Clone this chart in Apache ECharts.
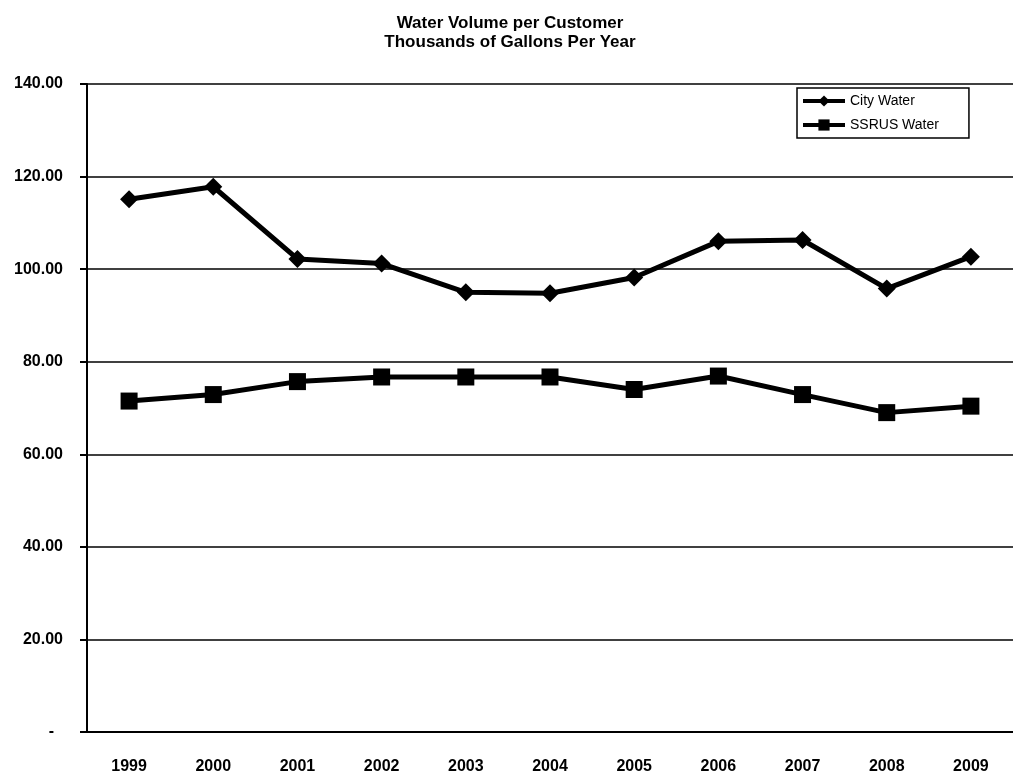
<!DOCTYPE html>
<html><head><meta charset="utf-8">
<script src="https://cdn.jsdelivr.net/npm/echarts@6/dist/echarts.min.js"></script>
<style>html,body{margin:0;padding:0;background:#fff}#c{width:1013px;height:775px}</style>
</head><body><div id="c"></div>
<script>
const categories = ['1999','2000','2001','2002','2003','2004','2005','2006','2007','2008','2009'];
const cityWater = [115.1, 117.8, 102.2, 101.2, 95.0, 94.8, 98.2, 106.0, 106.3, 95.8, 102.7];
const ssrusWater = [71.5, 72.9, 75.7, 76.7, 76.7, 76.7, 74.0, 76.9, 72.9, 69.0, 70.4];
const yTicks = [0, 20, 40, 60, 80, 100, 120, 140];

const F = 'Liberation Sans, Arial, sans-serif';
const chart = echarts.init(document.getElementById('c'));
chart.setOption({
  animation: false,
  backgroundColor: '#fff',
  title: {
    text: 'Water Volume per Customer\nThousands of Gallons Per Year',
    left: 505, textAlign: 'center', top: 9,
    textStyle: { fontFamily: F, fontSize: 17, fontWeight: 'bold', color: '#000', lineHeight: 19 }
  },
  legend: {
    left: 797, top: 88, orient: 'vertical',
    itemWidth: 42, itemHeight: 14, itemGap: 10,
    padding: [6, 30, 6, 4],
    borderColor: '#000', borderWidth: 1.5, backgroundColor: '#fff',
    lineStyle: { width: 4 },
    textStyle: { fontFamily: F, fontSize: 14, color: '#000' },
    data: ['City Water', 'SSRUS Water']
  },
  grid: { left: 87, top: 84, width: 938, height: 649 },
  xAxis: {
    type: 'category', data: categories, boundaryGap: true,
    axisLine: { lineStyle: { color: '#000', width: 2 } },
    axisTick: { lineStyle: { color: '#000', width: 2 }, length: 6 },
    axisLabel: { fontFamily: F, fontSize: 16, fontWeight: 'bold', color: '#000', margin: 27 }
  },
  yAxis: {
    type: 'value', min: 0, max: 140, interval: 20,
    axisLine: { show: true, lineStyle: { color: '#000', width: 2 } },
    axisTick: { show: true, inside: false, length: 7, lineStyle: { color: '#000', width: 2 } },
    splitLine: { lineStyle: { color: '#000', width: 1.5 } },
    axisLabel: {
      fontFamily: F, fontSize: 16, fontWeight: 'bold', color: '#000', margin: 24,
      formatter: v => (yTicks.indexOf(v) >= 0 ? (v === 0 ? '-  ' : v.toFixed(2)) : '')
    }
  },
  series: [
    { name: 'City Water', type: 'line', data: cityWater, symbol: 'diamond', symbolSize: 18,
      lineStyle: { color: '#000', width: 5 }, itemStyle: { color: '#000' } },
    { name: 'SSRUS Water', type: 'line', data: ssrusWater, symbol: 'rect', symbolSize: 17,
      lineStyle: { color: '#000', width: 5 }, itemStyle: { color: '#000' } }
  ]
});
</script></body></html>
